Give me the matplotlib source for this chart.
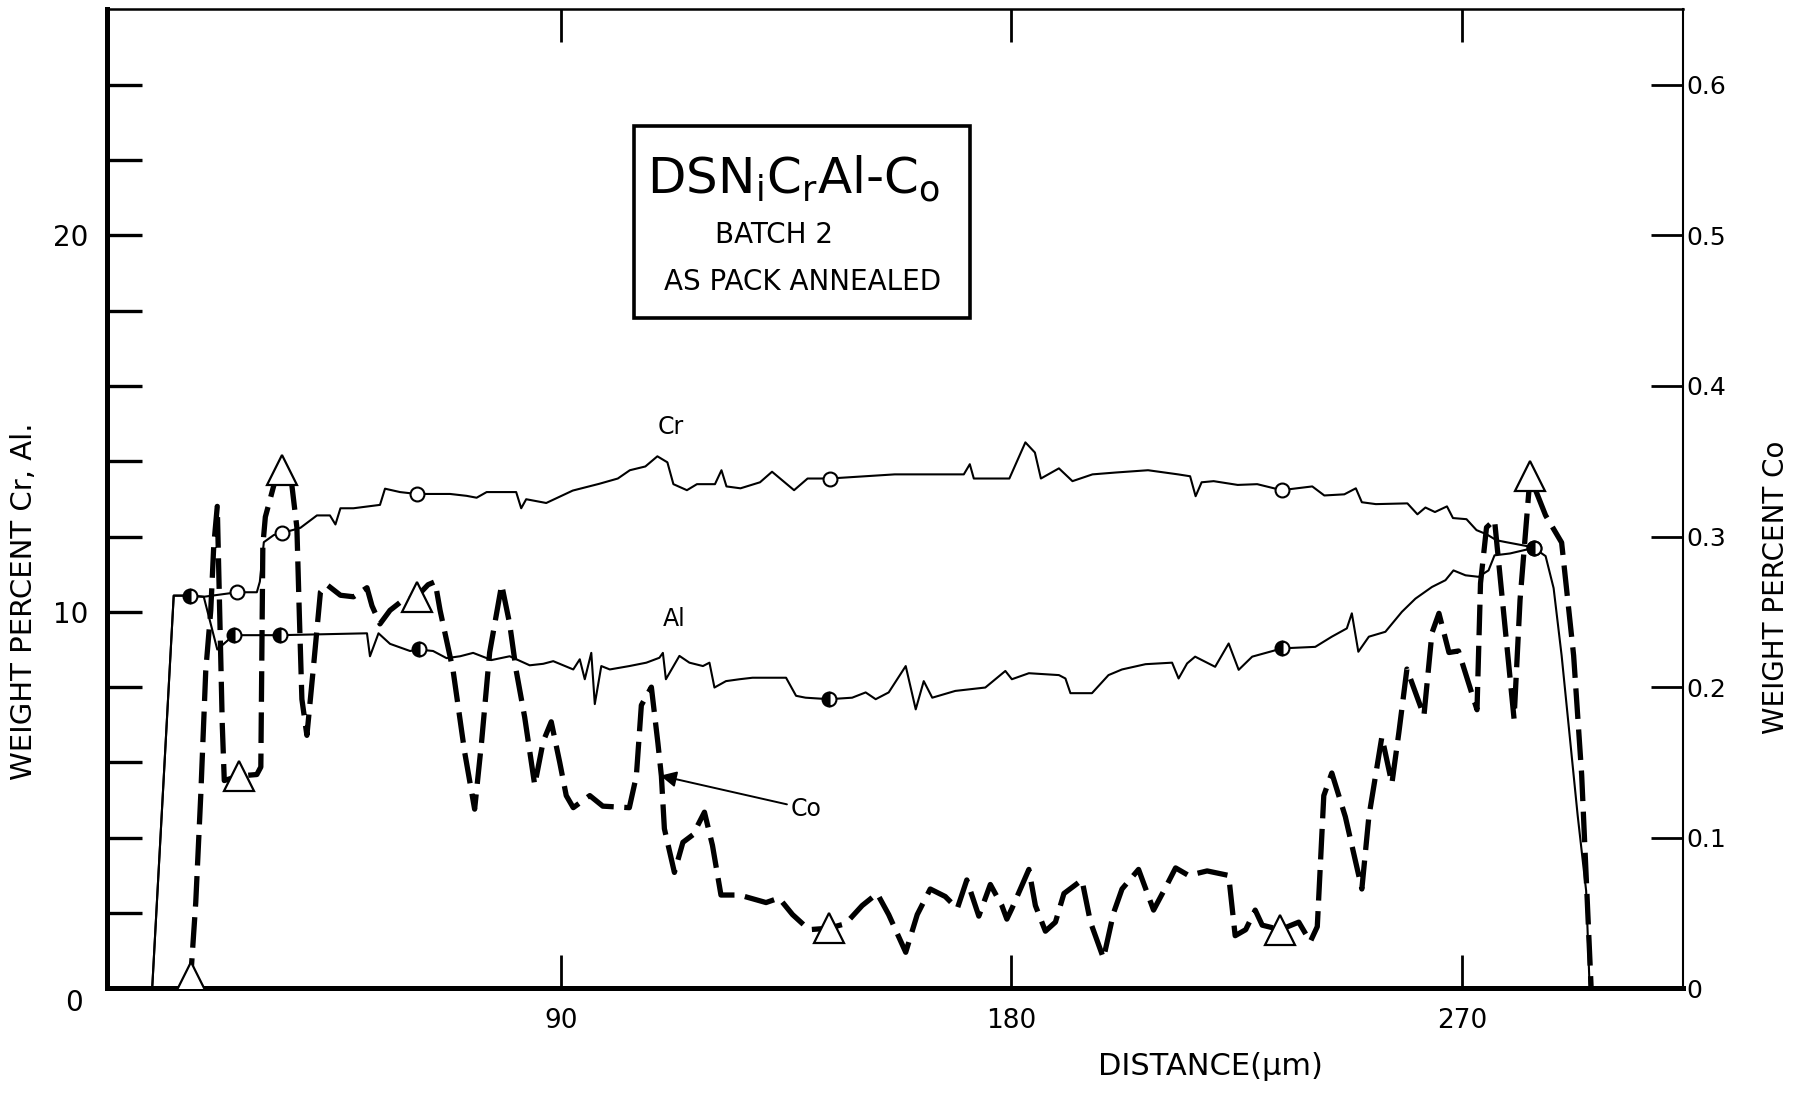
import matplotlib
matplotlib.use("Agg")
import matplotlib.pyplot as plt
import matplotlib.transforms as mtransforms
from matplotlib.patches import Rectangle

plt.rcParams['font.family'] = ['DejaVu Sans']
plt.rcParams['mathtext.fontset'] = 'dejavusans'

# distance (um) and weight percent Cr
cr_x = [8.4, 12.7, 15.9, 18.7, 25.4, 29.3, 29.9, 30.7, 32.7, 34.3, 38.0, 41.3, 43.9, 45.0, 46.0,
        48.6, 53.9, 54.9, 57.9, 61.2, 67.9, 71.2, 73.2, 75.2, 81.1, 82.1, 83.1, 87.1, 92.4, 97.7,
        101.4, 103.8, 106.9, 109.3, 111.3, 112.5, 115.2, 117.2, 120.8, 122.1, 123.1, 125.9, 129.8,
        132.2, 136.6, 139.3, 143.7, 156.7, 170.5, 171.7, 172.5, 179.6, 182.8, 184.7, 185.9, 189.5,
        192.2, 196.2, 200.9, 207.3, 213.3, 215.7, 216.8, 218.0, 220.4, 225.2, 229.1, 234.0, 237.0,
        240.1, 242.5, 246.5, 248.8, 250.0, 252.8, 259.1, 261.1, 262.7, 264.6, 267.0, 268.2, 270.9,
        272.9, 274.9, 276.9, 278.8, 282.8, 284.4]
cr_y = [0, 10.43, 10.43, 10.40, 10.52, 10.52, 10.80, 11.85, 12.04, 12.09, 12.23, 12.56, 12.56, 12.32, 12.75,
        12.75, 12.84, 13.27, 13.18, 13.13, 13.13, 13.08, 13.03, 13.18, 13.18, 12.75, 12.99, 12.89, 13.22, 13.40,
        13.54, 13.76, 13.86, 14.13, 13.97, 13.39, 13.23, 13.39, 13.39, 13.76, 13.33, 13.28, 13.44,
        13.72, 13.23, 13.54, 13.54, 13.65, 13.65, 13.92, 13.54, 13.54, 14.50, 14.23, 13.54, 13.81,
        13.47, 13.65, 13.70, 13.76, 13.65, 13.60, 13.07, 13.44, 13.47, 13.37, 13.39, 13.23, 13.28,
        13.33, 13.09, 13.12, 13.28, 12.91, 12.86, 12.88, 12.59, 12.77, 12.65, 12.80, 12.49, 12.46,
        12.17, 12.06, 11.90, 11.85, 11.75, 11.69]
cr_marks = [25.4, 34.3, 61.2, 143.7, 234.0, 284.4]

# distance (um) and weight percent Al
al_x = [8.4, 12.7, 15.9, 18.7, 21.4, 24.7, 34.0, 51.3, 51.9, 53.6, 55.9, 59.9, 61.6, 64.5, 67.2,
        69.9, 72.5, 76.2, 79.8, 83.8, 86.5, 88.5, 92.5, 93.8, 94.8, 96.1, 96.8, 98.1, 99.8, 103.7,
        107.1, 109.7, 110.4, 111.0, 113.7, 115.7, 118.4, 119.7, 120.7, 123.0, 125.7, 128.3, 135.0,
        137.0, 138.9, 143.6, 148.2, 150.9, 152.9, 155.5, 158.9, 160.9, 162.5, 164.2, 168.8, 174.8,
        178.8, 180.1, 183.5, 189.5, 190.8, 191.8, 196.1, 199.4, 202.1, 206.8, 212.1, 213.4, 215.1,
        216.7, 220.7, 223.4, 225.4, 228.1, 234.1, 240.7, 244.0, 247.0, 248.0, 249.3, 251.4, 254.7,
        258.0, 260.7, 264.0, 266.7, 268.3, 270.7, 273.3, 275.3, 276.5, 279.6, 282.8, 284.4, 286.7,
        288.3, 289.9, 291.5, 293.1, 294.8, 295.5]
al_y = [0, 10.43, 10.43, 10.40, 9.00, 9.38, 9.38, 9.43, 8.82, 9.43, 9.15, 8.96, 9.00, 8.96, 8.77,
        8.82, 8.91, 8.72, 8.82, 8.58, 8.62, 8.69, 8.47, 8.74, 8.21, 8.91, 7.55, 8.56, 8.47, 8.56,
        8.65, 8.78, 8.91, 8.21, 8.83, 8.65, 8.56, 8.65, 7.99, 8.16, 8.21, 8.25, 8.25,
        7.77, 7.72, 7.68, 7.72, 7.86, 7.68, 7.86, 8.56, 7.41, 8.16, 7.72, 7.90, 7.99,
        8.43, 8.21, 8.37, 8.32, 8.23, 7.84, 7.84, 8.32, 8.47, 8.61, 8.65, 8.23, 8.63,
        8.81, 8.54, 9.16, 8.46, 8.81, 9.03, 9.07, 9.34, 9.56, 9.96, 8.94, 9.34, 9.47,
        10.00, 10.35, 10.66, 10.84, 11.10, 10.97, 10.93, 11.10, 11.50, 11.55, 11.65, 11.69, 11.48,
        10.63, 8.84, 6.72, 4.60, 2.59, 0]
al_marks = [15.9, 24.7, 34.0, 61.6, 143.6, 234.1, 284.4]

# distance (um) and weight percent Co
co_x = [15.5, 16.1, 17.1, 18.1, 19.1, 20.1, 20.7, 21.4, 21.9, 22.4, 22.8, 25.7, 29.3, 30.1, 30.3,
        30.5, 31.0, 32.7, 34.3, 36.3, 37.3, 37.8, 38.3, 39.3, 40.6, 42.0, 43.3, 46.0, 48.6, 51.3,
        52.3, 53.9, 55.9, 58.2, 61.2, 63.5, 64.9, 65.9, 68.5, 70.8, 72.8, 74.2, 75.8, 78.2, 79.8,
        81.1, 82.8, 84.8, 86.5, 88.1, 89.8, 91.1, 92.5, 95.8, 98.4, 103.7, 105.1, 106.1, 108.1,
        109.4, 110.1, 110.7, 112.7, 114.4, 116.4, 118.7, 120.3, 122.0, 125.7, 131.0, 133.6, 136.3,
        139.6, 143.6, 146.9, 150.2, 153.2, 155.5, 158.9, 161.2, 163.8, 166.8, 169.2, 171.1, 173.5,
        175.8, 178.1, 179.1, 180.1, 183.5, 184.8, 186.8, 188.8, 190.5, 194.1, 195.8, 198.4, 200.4,
        202.1, 205.4, 208.4, 210.8, 212.8, 215.4, 219.1, 223.4, 224.7, 226.8, 228.7, 230.1, 233.7,
        237.4, 239.7, 241.1, 242.4, 244.0, 246.7, 250.0, 251.4, 254.0, 256.0, 257.4, 259.0, 262.4,
        264.0, 265.4, 267.4, 269.3, 273.0, 273.7, 274.9, 276.5, 280.4, 281.6, 283.6, 286.7, 289.9,
        292.3, 293.9, 295.8]
co_y = [0, 0.0075, 0.057, 0.128, 0.211, 0.251, 0.294, 0.320, 0.247, 0.175, 0.138, 0.141, 0.142, 0.147, 0.223,
        0.294, 0.313, 0.334, 0.344, 0.334, 0.306, 0.247, 0.192, 0.168, 0.213, 0.263, 0.268, 0.261, 0.260, 0.266,
        0.254, 0.242, 0.251, 0.257, 0.260, 0.268, 0.270, 0.251, 0.211, 0.157, 0.119, 0.164, 0.223, 0.268, 0.242,
        0.211, 0.180, 0.135, 0.164, 0.177, 0.150, 0.128, 0.120, 0.128, 0.121, 0.120, 0.141, 0.188, 0.200,
        0.163, 0.141, 0.106, 0.077, 0.097, 0.102, 0.117, 0.095, 0.062, 0.062, 0.057, 0.060, 0.049,
        0.039, 0.040, 0.043, 0.055, 0.063, 0.049, 0.024, 0.049, 0.066, 0.061, 0.053, 0.072, 0.048,
        0.069, 0.055, 0.046, 0.053, 0.079, 0.055, 0.038, 0.044, 0.063, 0.072, 0.044, 0.020, 0.050,
        0.066, 0.079, 0.052, 0.067, 0.080, 0.075, 0.078, 0.075, 0.035, 0.039, 0.052, 0.042, 0.039,
        0.044, 0.031, 0.041, 0.128, 0.143, 0.114, 0.066, 0.114, 0.167, 0.136, 0.170, 0.212, 0.181,
        0.236, 0.249, 0.223, 0.224, 0.185, 0.269, 0.306, 0.311, 0.179, 0.258, 0.340, 0.314, 0.296,
        0.221, 0.142, 0]
co_marks = [16.1, 25.7, 34.3, 61.2, 143.6, 233.7, 283.6]

left_ticks = [0, 2, 4, 6, 8, 10, 12, 14, 16, 18, 20, 22, 24]
left_labels = ['0', '', '', '', '', '10', '', '', '', '', '20', '', '']
right_ticks = [0, 0.1, 0.2, 0.3, 0.4, 0.5, 0.6]
right_labels = ['0', '0.1', '0.2', '0.3', '0.4', '0.5', '0.6']
x_ticks = [90, 180, 270]

fig = plt.figure(figsize=(17.98, 11.05), dpi=100)
ax = fig.add_axes([0.0593, 0.1055, 0.8769, 0.8861])
ax2 = ax.twinx()

# Cr and Al: thin solid traces with circle markers
ax.plot(cr_x, cr_y, color='black', lw=1.5,
        marker='o', ms=10, mfc='white', mec='black', mew=1.5,
        markevery=[cr_x.index(v) for v in cr_marks], zorder=3)
ax.plot(al_x, al_y, color='black', lw=1.5,
        marker='o', ms=10, fillstyle='left', mfc='black', mfcalt='white', mec='black', mew=1.5,
        markevery=[al_x.index(v) for v in al_marks], zorder=3)

# Co: heavy dashed trace on the right-hand scale
co_line, = ax2.plot(co_x, co_y, color='black', lw=3.8,
                    marker='^', ms=21, mfc='white', mec='black', mew=1.6,
                    markevery=[co_x.index(v) for v in co_marks], zorder=4)
co_line.set_dashes([5.8, 2.0])

ax.set_xlim(-0.7, 314.2)
ax.set_ylim(0, 26)
ax2.set_ylim(0, 0.65)

ax.set_xticks(x_ticks)
ax.set_xticklabels([str(v) for v in x_ticks], fontsize=19)
ax.tick_params(axis='x', direction='in', length=24, width=2, top=True, pad=14)
ax.set_yticks(left_ticks)
ax.set_yticklabels(left_labels, fontsize=20)
ax.tick_params(axis='y', direction='in', length=25, width=2.4, pad=13)

# the zero label sits a little below the axis line
zero_lbl = ax.get_yticklabels()[0]
zero_lbl.set_transform(zero_lbl.get_transform() +
                       mtransforms.ScaledTranslation(-4 / 72, -8 / 72, fig.dpi_scale_trans))

ax2.set_yticks(right_ticks)
ax2.set_yticklabels(right_labels, fontsize=18)
ax2.tick_params(axis='y', direction='in', length=23, width=2, pad=2)

for s in ['left', 'bottom']:
    ax.spines[s].set_linewidth(3.6)
ax.spines['top'].set_linewidth(1.8)
ax.spines['right'].set_visible(False)
for s in ['left', 'bottom', 'top']:
    ax2.spines[s].set_visible(False)
ax2.spines['right'].set_linewidth(1.5)

ax.set_xlabel('DISTANCE(µm)', fontsize=22, va='center')
ax.xaxis.set_label_coords(0.70, -0.08)
ax.set_ylabel('WEIGHT PERCENT Cr, Al.', fontsize=21)
ax.yaxis.set_label_coords(-0.0435, 0.395)
ax2.set_ylabel('WEIGHT PERCENT Co', fontsize=20, rotation=90)
ax2.yaxis.set_label_coords(1.05, 0.41)

# title box
ax.add_patch(Rectangle((104.6, 17.8), 67.1, 5.1, fill=True, facecolor='white',
                       edgecolor='black', lw=2.6, zorder=5))
ax.text(136.5, 21.5, r'DSN$_{\mathregular{i}}$C$_{\mathregular{r}}$Al-C$_{\mathregular{o}}$',
        fontsize=36, ha='center', va='center', zorder=6)
ax.text(132.6, 20.0, 'BATCH 2', fontsize=20, ha='center', va='center', zorder=6)
ax.text(138.3, 18.77, 'AS PACK ANNEALED', fontsize=20, ha='center', va='center', zorder=6)

# curve labels
ax.text(112.0, 14.92, 'Cr', fontsize=17, ha='center', va='center')
ax.text(112.7, 9.80, 'Al', fontsize=17, ha='center', va='center')
ax.annotate('Co', xy=(109.9, 5.65), xytext=(136.0, 4.77), fontsize=17,
            ha='left', va='center',
            arrowprops=dict(arrowstyle='-|>', color='black', lw=1.4,
                            mutation_scale=24, shrinkA=1, shrinkB=0))

fig.savefig('out.png', dpi=100)
